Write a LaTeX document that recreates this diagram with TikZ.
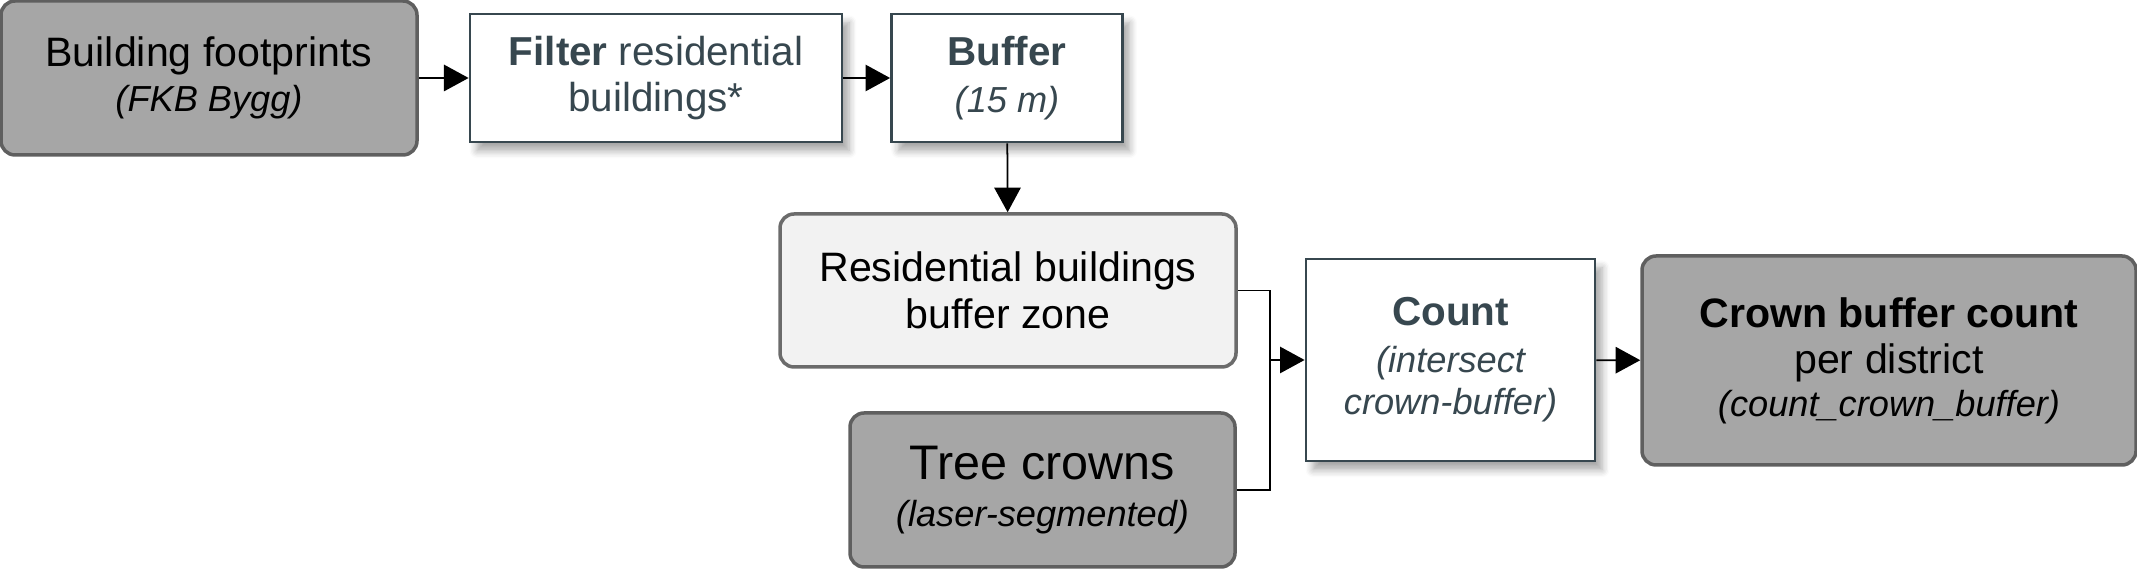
\documentclass[tikz,border=0pt]{standalone}
\usepackage{fontspec}
\setmainfont{Liberation Sans}
\usetikzlibrary{arrows.meta,shadows.blur}
\definecolor{slate}{HTML}{37474F}
\definecolor{darkfill}{HTML}{A6A6A6}
\definecolor{darkline}{HTML}{5F5F5F}
\definecolor{lightfill}{HTML}{F2F2F2}
\definecolor{lightline}{HTML}{6B6B6B}
\newcommand{\subline}[1]{{\fontsize{10.3}{13}\selectfont\itshape #1}}
\begin{document}
\begin{tikzpicture}[
inbox/.style={draw=darkline,fill=darkfill,line width=1pt,rounded corners=4pt,align=center,inner sep=0pt,font=\fontsize{11.7}{13.2}\selectfont},
zonebox/.style={draw=lightline,fill=lightfill,line width=1pt,rounded corners=4pt,align=center,inner sep=0pt,font=\fontsize{11.7}{13.2}\selectfont},
procbox/.style={draw=slate,fill=white,line width=.8pt,text=slate,align=center,inner sep=0pt,font=\fontsize{11.5}{13.2}\selectfont,
  blur shadow={shadow xshift=2pt,shadow yshift=-2.5pt,shadow blur steps=6,shadow opacity=35}},
flow/.style={-{Triangle[length=7pt,width=7.5pt]},line width=.5pt},
]
\useasboundingbox (0,0) rectangle (21.37,-5.70);
\node[inbox,minimum width=4.16cm,minimum height=1.54cm] (foot) at (2.09,-.78)
  {Building footprints\\[-.5pt] \subline{(FKB Bygg)}};
\node[procbox,minimum width=3.72cm,minimum height=1.28cm] (filter) at (6.56,-.78)
  {\textbf{Filter} residential\\ buildings*};
\node[procbox,minimum width=2.31cm,minimum height=1.28cm] (buffer) at (10.07,-.78)
  {\textbf{Buffer}\\ \subline{(15 m)}};
\node[zonebox,minimum width=4.56cm,minimum height=1.53cm] (resid) at (10.08,-2.905)
  {Residential buildings\\ buffer zone};
\node[inbox,minimum width=3.85cm,minimum height=1.54cm] (tree) at (10.425,-4.90)
  {{\fontsize{13.8}{16}\selectfont Tree crowns}\\ \subline{(laser-segmented)}};
\node[procbox,minimum width=2.89cm,minimum height=2.02cm] (count) at (14.505,-3.60)
  {\textbf{Count}\\ \subline{(intersect}\\[-1pt] \subline{crown-buffer)}};
\node[inbox,minimum width=4.94cm,minimum height=2.09cm] (crown) at (18.89,-3.605)
  {\textbf{Crown buffer count}\\ per district\\[-1pt] \subline{(count\_crown\_buffer)}};
\coordinate (jn) at (12.70,-3.60);
\draw[flow] (foot) -- (filter);
\draw[flow] (filter) -- (buffer);
\draw[flow] (buffer) -- (resid);
\draw[flow] (resid.east) -| (jn) -- (count.west);
\draw[line width=.5pt] (tree.east) -| (jn);
\draw[flow] (count) -- (crown);
\end{tikzpicture}
\end{document}
